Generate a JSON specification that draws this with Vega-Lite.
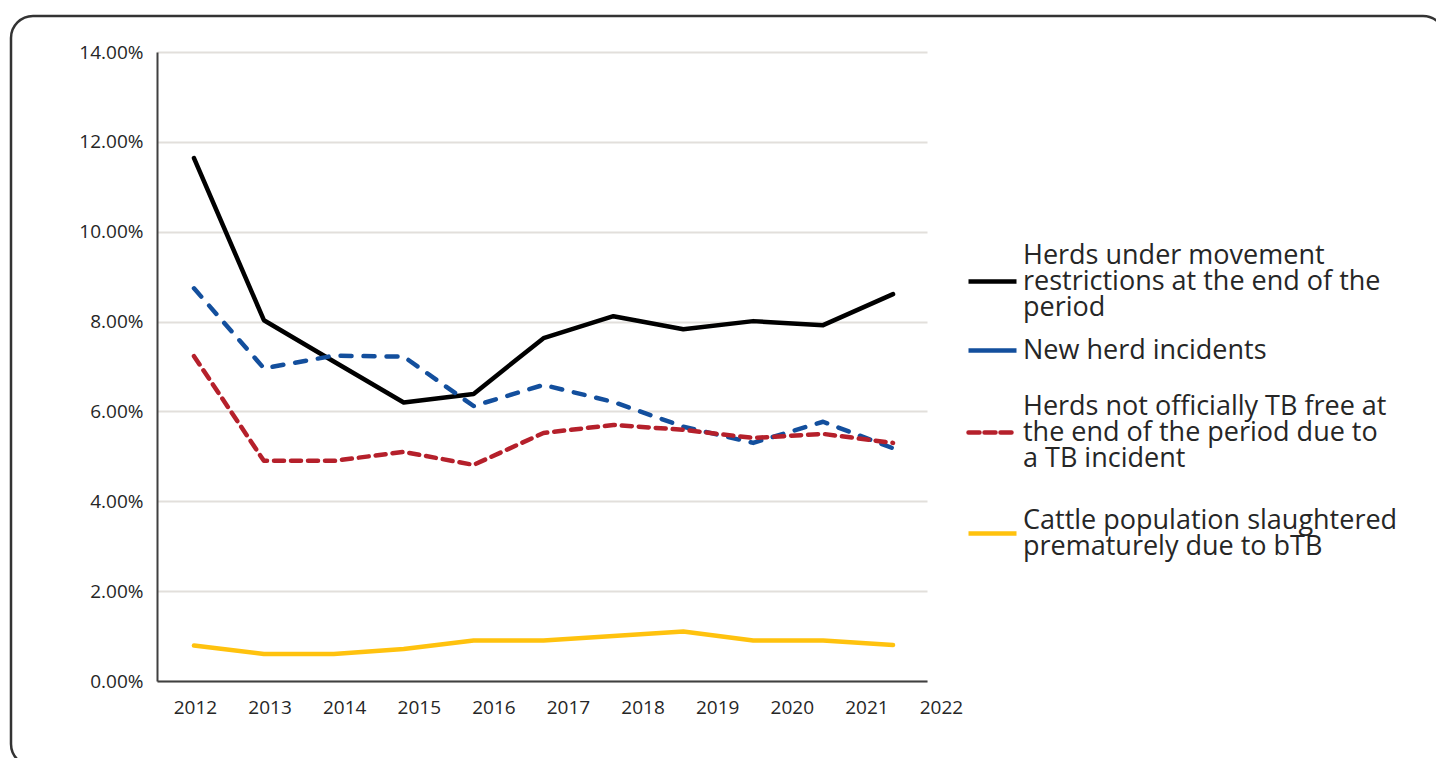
{
  "$schema": "https://vega.github.io/schema/vega-lite/v6.json",
  "width": 1434,
  "height": 750,
  "autosize": {"type": "none"},
  "padding": {"left": 11, "top": 16, "right": 0, "bottom": 0},
  "background": "white",
  "config": {
    "font": "Open Sans",
    "view": {"stroke": "#333333", "strokeWidth": 2.5, "cornerRadius": 22, "fill": "white"},
    "legend": {
      "title": null,
      "orient": "none",
      "padding": 0,
      "symbolType": "stroke",
      "symbolSize": 2304,
      "symbolStrokeWidth": 4.5,
      "labelFont": "Open Sans",
      "labelFontSize": 27,
      "labelColor": "#262626",
      "labelLimit": 0,
      "labelOffset": 4
    }
  },
  "data": {
    "values": [
      {"year": 2012, "series": "Herds under movement restrictions at the end of the period", "value": 0.1164},
      {"year": 2013, "series": "Herds under movement restrictions at the end of the period", "value": 0.0803},
      {"year": 2014, "series": "Herds under movement restrictions at the end of the period", "value": 0.0711},
      {"year": 2015, "series": "Herds under movement restrictions at the end of the period", "value": 0.0620},
      {"year": 2016, "series": "Herds under movement restrictions at the end of the period", "value": 0.0639},
      {"year": 2017, "series": "Herds under movement restrictions at the end of the period", "value": 0.0763},
      {"year": 2018, "series": "Herds under movement restrictions at the end of the period", "value": 0.0812},
      {"year": 2019, "series": "Herds under movement restrictions at the end of the period", "value": 0.0783},
      {"year": 2020, "series": "Herds under movement restrictions at the end of the period", "value": 0.0801},
      {"year": 2021, "series": "Herds under movement restrictions at the end of the period", "value": 0.0792},
      {"year": 2022, "series": "Herds under movement restrictions at the end of the period", "value": 0.0861},
      {"year": 2012, "series": "New herd incidents", "value": 0.0874},
      {"year": 2013, "series": "New herd incidents", "value": 0.0696},
      {"year": 2014, "series": "New herd incidents", "value": 0.0724},
      {"year": 2015, "series": "New herd incidents", "value": 0.0722},
      {"year": 2016, "series": "New herd incidents", "value": 0.0612},
      {"year": 2017, "series": "New herd incidents", "value": 0.0659},
      {"year": 2018, "series": "New herd incidents", "value": 0.0621},
      {"year": 2019, "series": "New herd incidents", "value": 0.0566},
      {"year": 2020, "series": "New herd incidents", "value": 0.0530},
      {"year": 2021, "series": "New herd incidents", "value": 0.0577},
      {"year": 2022, "series": "New herd incidents", "value": 0.0518},
      {"year": 2012, "series": "Herds not officially TB free at the end of the period due to a TB incident", "value": 0.0723},
      {"year": 2013, "series": "Herds not officially TB free at the end of the period due to a TB incident", "value": 0.0490},
      {"year": 2014, "series": "Herds not officially TB free at the end of the period due to a TB incident", "value": 0.0490},
      {"year": 2015, "series": "Herds not officially TB free at the end of the period due to a TB incident", "value": 0.0510},
      {"year": 2016, "series": "Herds not officially TB free at the end of the period due to a TB incident", "value": 0.0481},
      {"year": 2017, "series": "Herds not officially TB free at the end of the period due to a TB incident", "value": 0.0552},
      {"year": 2018, "series": "Herds not officially TB free at the end of the period due to a TB incident", "value": 0.0570},
      {"year": 2019, "series": "Herds not officially TB free at the end of the period due to a TB incident", "value": 0.0559},
      {"year": 2020, "series": "Herds not officially TB free at the end of the period due to a TB incident", "value": 0.0541},
      {"year": 2021, "series": "Herds not officially TB free at the end of the period due to a TB incident", "value": 0.0550},
      {"year": 2022, "series": "Herds not officially TB free at the end of the period due to a TB incident", "value": 0.0530},
      {"year": 2012, "series": "Cattle population slaughtered prematurely due to bTB", "value": 0.0079},
      {"year": 2013, "series": "Cattle population slaughtered prematurely due to bTB", "value": 0.0060},
      {"year": 2014, "series": "Cattle population slaughtered prematurely due to bTB", "value": 0.0060},
      {"year": 2015, "series": "Cattle population slaughtered prematurely due to bTB", "value": 0.0071},
      {"year": 2016, "series": "Cattle population slaughtered prematurely due to bTB", "value": 0.0090},
      {"year": 2017, "series": "Cattle population slaughtered prematurely due to bTB", "value": 0.0090},
      {"year": 2018, "series": "Cattle population slaughtered prematurely due to bTB", "value": 0.0100},
      {"year": 2019, "series": "Cattle population slaughtered prematurely due to bTB", "value": 0.0110},
      {"year": 2020, "series": "Cattle population slaughtered prematurely due to bTB", "value": 0.0090},
      {"year": 2021, "series": "Cattle population slaughtered prematurely due to bTB", "value": 0.0090},
      {"year": 2022, "series": "Cattle population slaughtered prematurely due to bTB", "value": 0.0080}
    ]
  },
  "encoding": {
    "x": {
      "field": "year",
      "type": "quantitative",
      "scale": {"domain": [2011.471, 2022.486], "range": [146, 916], "nice": false, "zero": false},
      "axis": {
        "title": null,
        "offset": -85,
        "grid": false,
        "ticks": false,
        "domainColor": "#404040",
        "domainWidth": 2,
        "labelFlush": false,
        "labelOverlap": false,
        "labelFont": "Open Sans",
        "labelFontSize": 19,
        "labelColor": "#262626",
        "labelPadding": 17,
        "values": [2012.0143, 2013.0815, 2014.1487, 2015.2159, 2016.2831, 2017.3503, 2018.4175, 2019.4847, 2020.5519, 2021.6191, 2022.48],
        "labelExpr": "'' + round((datum.value - 2012.0143) / 1.0672 + 2012)",
        "labelOffset": {"condition": {"test": "datum.value > 2022.4", "value": 14.4}, "value": 0}
      }
    },
    "y": {
      "field": "value",
      "type": "quantitative",
      "scale": {"domain": [0, 0.14], "range": [665, 36], "nice": false},
      "axis": {
        "title": null,
        "offset": -146,
        "values": [0, 0.02, 0.04, 0.06, 0.08, 0.1, 0.12, 0.14],
        "format": ".2%",
        "ticks": false,
        "domainColor": "#404040",
        "domainWidth": 2,
        "grid": true,
        "gridColor": "#e2dfdb",
        "gridWidth": 2,
        "labelFont": "Open Sans",
        "labelFontSize": 19,
        "labelColor": "#262626",
        "labelPadding": 14
      }
    }
  },
  "layer": [
    {
      "transform": [{"filter": "datum.series === 'Herds under movement restrictions at the end of the period'"}],
      "mark": {"type": "line", "strokeWidth": 4.5, "strokeCap": "round", "strokeJoin": "round"},
      "encoding": {
        "color": {
          "field": "series", "type": "nominal",
          "scale": {"domain": ["Herds under movement restrictions at the end of the period"], "range": ["#000000"]},
          "legend": {
            "legendX": 955, "legendY": 239,
            "labelExpr": "['Herds under movement', 'restrictions at the end of the', 'period']",
            "encode": {"labels": {"update": {"lineHeight": {"value": 26}, "dy": {"value": -26}}}}
          }
        }
      }
    },
    {
      "transform": [{"filter": "datum.series === 'New herd incidents'"}],
      "mark": {"type": "line", "strokeWidth": 4.5, "strokeCap": "round", "strokeJoin": "round", "strokeDash": [11, 12]},
      "encoding": {
        "color": {
          "field": "series", "type": "nominal",
          "scale": {"domain": ["New herd incidents"], "range": ["#134f9d"]},
          "legend": {
            "legendX": 955, "legendY": 308,
            "encode": {"labels": {"update": {"lineHeight": {"value": 26}}}}
          }
        }
      }
    },
    {
      "transform": [{"filter": "datum.series === 'Herds not officially TB free at the end of the period due to a TB incident'"}],
      "mark": {"type": "line", "strokeWidth": 4.5, "strokeCap": "round", "strokeJoin": "round", "strokeDash": [10, 7]},
      "encoding": {
        "color": {
          "field": "series", "type": "nominal",
          "scale": {"domain": ["Herds not officially TB free at the end of the period due to a TB incident"], "range": ["#b5202b"]},
          "legend": {
            "legendX": 955, "legendY": 390,
            "labelExpr": "['Herds not officially TB free at', 'the end of the period due to', 'a TB incident']",
            "encode": {
              "symbols": {"update": {"strokeDash": {"value": [11, 5]}, "strokeCap": {"value": "round"}}},
              "labels": {"update": {"lineHeight": {"value": 26}, "dy": {"value": -26}}}
            }
          }
        }
      }
    },
    {
      "transform": [{"filter": "datum.series === 'Cattle population slaughtered prematurely due to bTB'"}],
      "mark": {"type": "line", "strokeWidth": 4.5, "strokeCap": "round", "strokeJoin": "round"},
      "encoding": {
        "color": {
          "field": "series", "type": "nominal",
          "scale": {"domain": ["Cattle population slaughtered prematurely due to bTB"], "range": ["#ffc20e"]},
          "legend": {
            "legendX": 955, "legendY": 491,
            "labelExpr": "['Cattle population slaughtered', 'prematurely due to bTB']",
            "encode": {"labels": {"update": {"lineHeight": {"value": 26}, "dy": {"value": -13}}}}
          }
        }
      }
    }
  ],
  "resolve": {"scale": {"color": "independent"}, "legend": {"color": "independent"}}
}
